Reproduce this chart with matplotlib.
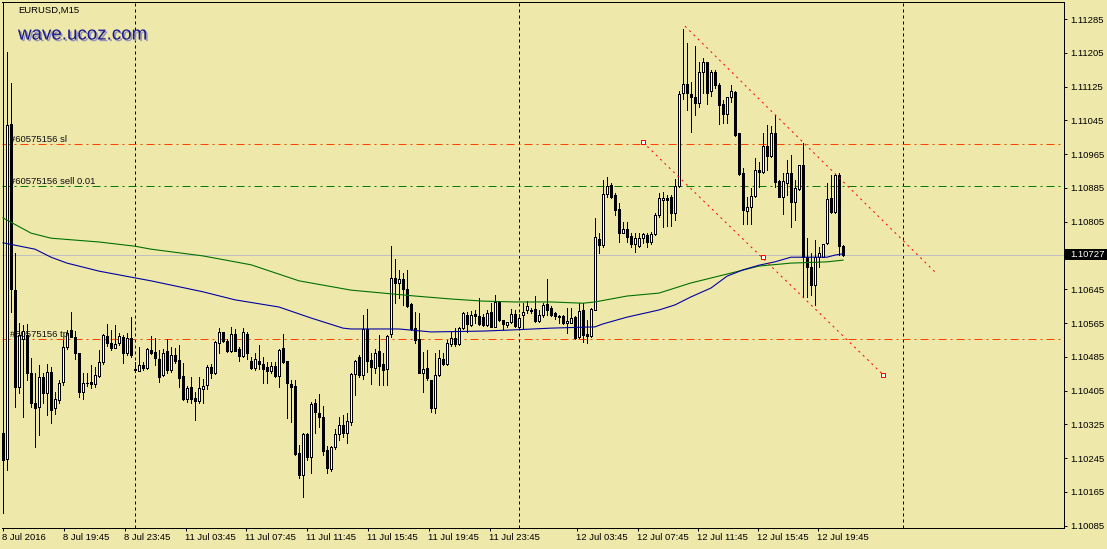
import matplotlib
matplotlib.use("Agg")
import matplotlib.pyplot as plt
from matplotlib import transforms, patheffects
from matplotlib.patches import Rectangle

# ---------------- data ----------------
symbol = "EURUSD,M15"
watermark = "wave.ucoz.com"
order_id = "#60575156"

open_ = [1.10305, 1.10243, 1.11036, 1.10643, 1.10414, 1.10527, 1.10537, 1.10447, 1.10376, 1.10366,
         1.10437, 1.10399, 1.10449, 1.10364, 1.10383, 1.10425, 1.10508, 1.10549, 1.10532, 1.10494,
         1.10402, 1.10423, 1.10425, 1.10421, 1.10440, 1.10473, 1.10534, 1.10518, 1.10506, 1.10518,
         1.10532, 1.10494, 1.10530, 1.10456, 1.10451, 1.10466, 1.10459, 1.10501, 1.10496, 1.10480,
         1.10442, 1.10499, 1.10454, 1.10489, 1.10478, 1.10440, 1.10385, 1.10414, 1.10388, 1.10380,
         1.10409, 1.10418, 1.10461, 1.10447, 1.10518, 1.10544, 1.10523, 1.10499, 1.10539, 1.10504,
         1.10487, 1.10539, 1.10475, 1.10459, 1.10475, 1.10468, 1.10461, 1.10451, 1.10463, 1.10440,
         1.10506, 1.10475, 1.10421, 1.10416, 1.10257, 1.10205, 1.10302, 1.10248, 1.10376, 1.10352,
         1.10343, 1.10264, 1.10219, 1.10272, 1.10302, 1.10324, 1.10305, 1.10331, 1.10444, 1.10485,
         1.10442, 1.10551, 1.10478, 1.10459, 1.10499, 1.10468, 1.10456, 1.10539, 1.10672, 1.10660,
         1.10669, 1.10646, 1.10610, 1.10553, 1.10527, 1.10447, 1.10459, 1.10430, 1.10364, 1.10442,
         1.10480, 1.10468, 1.10515, 1.10530, 1.10515, 1.10553, 1.10584, 1.10560, 1.10586, 1.10582,
         1.10579, 1.10560, 1.10591, 1.10556, 1.10615, 1.10572, 1.10560, 1.10568, 1.10586, 1.10556,
         1.10584, 1.10596, 1.10596, 1.10598, 1.10570, 1.10584, 1.10610, 1.10601, 1.10589, 1.10582,
         1.10582, 1.10565, 1.10565, 1.10579, 1.10532, 1.10596, 1.10539, 1.10534, 1.10596, 1.10764,
         1.10750, 1.10871, 1.10892, 1.10868, 1.10835, 1.10778, 1.10788, 1.10771, 1.10752, 1.10747,
         1.10766, 1.10774, 1.10757, 1.10776, 1.10821, 1.10856, 1.10861, 1.10864, 1.10826, 1.10890,
         1.11110, 1.11131, 1.11107, 1.11100, 1.11086, 1.11160, 1.11183, 1.11115, 1.11160, 1.11129,
         1.11084, 1.11060, 1.11100, 1.11112, 1.11015, 1.10920, 1.10830, 1.10840, 1.10866, 1.10927,
         1.10923, 1.10984, 1.10961, 1.11015, 1.10901, 1.10864, 1.10897, 1.10920, 1.10852, 1.10882,
         1.10939, 1.10721, 1.10698, 1.10655, 1.10721, 1.10721, 1.10755, 1.10861, 1.10828, 1.10916,
         1.10747]
high = [1.11340, 1.11207, 1.11133, 1.10731, 1.10565, 1.10560, 1.10563, 1.10482, 1.10447, 1.10466,
        1.10447, 1.10468, 1.10461, 1.10402, 1.10430, 1.10525, 1.10549, 1.10591, 1.10546, 1.10494,
        1.10447, 1.10447, 1.10466, 1.10461, 1.10501, 1.10539, 1.10563, 1.10549, 1.10560, 1.10541,
        1.10537, 1.10541, 1.10579, 1.10473, 1.10508, 1.10473, 1.10506, 1.10534, 1.10530, 1.10501,
        1.10504, 1.10527, 1.10508, 1.10506, 1.10513, 1.10470, 1.10416, 1.10437, 1.10402, 1.10437,
        1.10433, 1.10466, 1.10468, 1.10523, 1.10553, 1.10544, 1.10527, 1.10556, 1.10551, 1.10508,
        1.10553, 1.10544, 1.10485, 1.10494, 1.10513, 1.10485, 1.10473, 1.10473, 1.10473, 1.10504,
        1.10539, 1.10475, 1.10430, 1.10430, 1.10276, 1.10305, 1.10305, 1.10378, 1.10385, 1.10397,
        1.10369, 1.10274, 1.10274, 1.10314, 1.10343, 1.10347, 1.10352, 1.10447, 1.10478, 1.10489,
        1.10584, 1.10598, 1.10494, 1.10504, 1.10537, 1.10494, 1.10537, 1.10747, 1.10717, 1.10691,
        1.10684, 1.10691, 1.10612, 1.10591, 1.10589, 1.10496, 1.10501, 1.10430, 1.10494, 1.10501,
        1.10494, 1.10525, 1.10544, 1.10553, 1.10556, 1.10591, 1.10591, 1.10594, 1.10596, 1.10624,
        1.10586, 1.10596, 1.10612, 1.10631, 1.10617, 1.10572, 1.10568, 1.10598, 1.10596, 1.10586,
        1.10612, 1.10617, 1.10601, 1.10629, 1.10596, 1.10612, 1.10669, 1.10605, 1.10591, 1.10584,
        1.10584, 1.10601, 1.10601, 1.10582, 1.10612, 1.10612, 1.10572, 1.10601, 1.10814, 1.10778,
        1.10904, 1.10911, 1.10897, 1.10873, 1.10849, 1.10804, 1.10804, 1.10778, 1.10778, 1.10778,
        1.10778, 1.10778, 1.10781, 1.10826, 1.10873, 1.10875, 1.10868, 1.10868, 1.10906, 1.11115,
        1.11261, 1.11228, 1.11136, 1.11221, 1.11183, 1.11193, 1.11183, 1.11164, 1.11164, 1.11133,
        1.11093, 1.11100, 1.11129, 1.11115, 1.11015, 1.10932, 1.10864, 1.10885, 1.10956, 1.10946,
        1.11015, 1.11034, 1.11032, 1.11058, 1.10904, 1.10920, 1.10951, 1.10963, 1.10904, 1.10939,
        1.10991, 1.10766, 1.10731, 1.10762, 1.10745, 1.10752, 1.10897, 1.10916, 1.10918, 1.10920,
        1.10750]
low = [1.10115, 1.10217, 1.10591, 1.10366, 1.10399, 1.10343, 1.10430, 1.10366, 1.10272, 1.10300,
       1.10376, 1.10347, 1.10328, 1.10350, 1.10376, 1.10418, 1.10504, 1.10532, 1.10480, 1.10390,
       1.10385, 1.10416, 1.10411, 1.10414, 1.10437, 1.10468, 1.10511, 1.10501, 1.10506, 1.10513,
       1.10470, 1.10489, 1.10485, 1.10449, 1.10451, 1.10454, 1.10456, 1.10492, 1.10466, 1.10425,
       1.10440, 1.10447, 1.10449, 1.10470, 1.10414, 1.10383, 1.10378, 1.10376, 1.10335, 1.10376,
       1.10376, 1.10409, 1.10435, 1.10444, 1.10494, 1.10520, 1.10496, 1.10496, 1.10499, 1.10475,
       1.10485, 1.10480, 1.10456, 1.10454, 1.10456, 1.10423, 1.10423, 1.10447, 1.10437, 1.10414,
       1.10470, 1.10340, 1.10331, 1.10253, 1.10198, 1.10153, 1.10241, 1.10210, 1.10305, 1.10319,
       1.10253, 1.10210, 1.10215, 1.10267, 1.10288, 1.10295, 1.10281, 1.10324, 1.10395, 1.10437,
       1.10433, 1.10449, 1.10421, 1.10447, 1.10418, 1.10418, 1.10418, 1.10532, 1.10612, 1.10624,
       1.10608, 1.10603, 1.10549, 1.10518, 1.10447, 1.10402, 1.10430, 1.10354, 1.10352, 1.10440,
       1.10466, 1.10466, 1.10511, 1.10511, 1.10513, 1.10551, 1.10544, 1.10558, 1.10565, 1.10560,
       1.10558, 1.10558, 1.10556, 1.10556, 1.10570, 1.10551, 1.10556, 1.10565, 1.10556, 1.10553,
       1.10553, 1.10589, 1.10589, 1.10568, 1.10568, 1.10579, 1.10584, 1.10582, 1.10575, 1.10565,
       1.10563, 1.10541, 1.10565, 1.10527, 1.10530, 1.10520, 1.10518, 1.10532, 1.10596, 1.10731,
       1.10745, 1.10864, 1.10861, 1.10821, 1.10757, 1.10778, 1.10757, 1.10745, 1.10733, 1.10745,
       1.10755, 1.10745, 1.10752, 1.10774, 1.10816, 1.10792, 1.10795, 1.10795, 1.10809, 1.10887,
       1.11096, 1.11070, 1.11017, 1.11058, 1.11077, 1.11110, 1.11084, 1.11103, 1.11122, 1.11036,
       1.11039, 1.11039, 1.11088, 1.11008, 1.10916, 1.10800, 1.10800, 1.10800, 1.10864, 1.10887,
       1.10920, 1.10927, 1.10958, 1.10887, 1.10864, 1.10823, 1.10868, 1.10792, 1.10809, 1.10880,
       1.10627, 1.10627, 1.10631, 1.10608, 1.10698, 1.10721, 1.10752, 1.10826, 1.10826, 1.10726,
       1.10724]
close = [1.10241, 1.11034, 1.10646, 1.10414, 1.10537, 1.10546, 1.10447, 1.10376, 1.10364, 1.10437,
         1.10399, 1.10449, 1.10359, 1.10385, 1.10423, 1.10508, 1.10541, 1.10532, 1.10494, 1.10402,
         1.10423, 1.10423, 1.10421, 1.10442, 1.10473, 1.10537, 1.10518, 1.10506, 1.10515, 1.10534,
         1.10494, 1.10530, 1.10489, 1.10454, 1.10466, 1.10459, 1.10504, 1.10494, 1.10482, 1.10437,
         1.10494, 1.10454, 1.10489, 1.10475, 1.10435, 1.10385, 1.10411, 1.10385, 1.10380, 1.10411,
         1.10416, 1.10461, 1.10447, 1.10520, 1.10544, 1.10523, 1.10499, 1.10539, 1.10499, 1.10487,
         1.10544, 1.10494, 1.10459, 1.10480, 1.10468, 1.10456, 1.10451, 1.10463, 1.10440, 1.10501,
         1.10473, 1.10423, 1.10414, 1.10255, 1.10205, 1.10302, 1.10248, 1.10373, 1.10354, 1.10343,
         1.10262, 1.10222, 1.10272, 1.10302, 1.10324, 1.10305, 1.10333, 1.10444, 1.10475, 1.10442,
         1.10551, 1.10475, 1.10461, 1.10494, 1.10463, 1.10454, 1.10534, 1.10672, 1.10660, 1.10669,
         1.10646, 1.10605, 1.10551, 1.10525, 1.10447, 1.10456, 1.10435, 1.10364, 1.10442, 1.10482,
         1.10468, 1.10518, 1.10530, 1.10515, 1.10553, 1.10589, 1.10563, 1.10584, 1.10582, 1.10563,
         1.10560, 1.10589, 1.10556, 1.10615, 1.10572, 1.10563, 1.10568, 1.10586, 1.10558, 1.10577,
         1.10591, 1.10605, 1.10594, 1.10570, 1.10584, 1.10608, 1.10596, 1.10584, 1.10582, 1.10579,
         1.10565, 1.10570, 1.10577, 1.10530, 1.10594, 1.10537, 1.10534, 1.10598, 1.10769, 1.10750,
         1.10871, 1.10890, 1.10864, 1.10833, 1.10778, 1.10788, 1.10769, 1.10752, 1.10766, 1.10766,
         1.10776, 1.10757, 1.10776, 1.10821, 1.10861, 1.10861, 1.10856, 1.10826, 1.10890, 1.11107,
         1.11131, 1.11110, 1.11100, 1.11086, 1.11160, 1.11183, 1.11110, 1.11160, 1.11129, 1.11081,
         1.11060, 1.11100, 1.11115, 1.11010, 1.10918, 1.10833, 1.10840, 1.10866, 1.10927, 1.10923,
         1.10984, 1.10961, 1.11015, 1.10899, 1.10864, 1.10901, 1.10920, 1.10852, 1.10885, 1.10939,
         1.10721, 1.10698, 1.10655, 1.10721, 1.10731, 1.10752, 1.10859, 1.10828, 1.10916, 1.10747,
         1.10727]

# moving averages (read at sample bars)
ma_fast_bar = [0, 8, 12, 16, 24, 33, 37, 50, 58, 69, 77, 85, 87, 99, 107, 120, 128, 137, 148, 150,
               156, 164, 168, 172, 177, 181, 185, 189, 193, 197, 206, 208, 210]
ma_fast = [1.10755, 1.10740, 1.10721, 1.10707, 1.10688, 1.10672, 1.10665, 1.10639, 1.10620, 1.10603,
           1.10577, 1.10553, 1.10551, 1.10551, 1.10544, 1.10546, 1.10549, 1.10553, 1.10556, 1.10563,
           1.10579, 1.10596, 1.10608, 1.10627, 1.10648, 1.10676, 1.10691, 1.10702, 1.10710, 1.10721,
           1.10721, 1.10726, 1.10729]
ma_slow_bar = [0, 7, 12, 24, 33, 37, 50, 62, 74, 87, 95, 103, 112, 120, 128, 137, 145, 148, 156, 164,
               172, 181, 189, 197, 206, 210]
ma_slow = [1.10814, 1.10778, 1.10766, 1.10757, 1.10747, 1.10740, 1.10724, 1.10703, 1.10665, 1.10643,
           1.10636, 1.10629, 1.10622, 1.10617, 1.10615, 1.10615, 1.10612, 1.10615, 1.10629, 1.10636,
           1.10660, 1.10681, 1.10700, 1.10707, 1.10710, 1.10714]

sl_price = 1.10990
entry_price = 1.10890
tp_price = 1.10527
bid_price = 1.10727

chan_lower_bar = [160, 220]
chan_lower_price = [1.10993, 1.10443]
chan_upper_bar = [170.5, 233]
chan_upper_price = [1.11268, 1.10686]
chan_mark_bar = [160, 190, 220]
chan_mark_price = [1.10993, 1.10721, 1.10443]

day_separator_bar = [33, 129, 225]

price_ticks = [1.10085, 1.10165, 1.10245, 1.10325, 1.10405, 1.10485, 1.10565, 1.10645,
               1.10725, 1.10805, 1.10885, 1.10965, 1.11045, 1.11125, 1.11205, 1.11285]
time_labels = ["8 Jul 2016", "8 Jul 19:45", "8 Jul 23:45", "11 Jul 03:45", "11 Jul 07:45",
               "11 Jul 11:45", "11 Jul 15:45", "11 Jul 19:45", "11 Jul 23:45", "12 Jul 03:45",
               "12 Jul 07:45", "12 Jul 11:45", "12 Jul 15:45", "12 Jul 19:45"]

# ---------------- layout / style ----------------
time_tick_pos = [0.08, 15.25, 30.5, 45.7, 60.8, 76, 91.25, 106.4, 121.7, 143.6, 158.7, 173.7, 188.7, 203.7]
BG = "#EEE8AA"
FONT = "Liberation Sans"
FS = 6.8
W, H = 1107, 549
LW = 0.72

fig = plt.figure(figsize=(W / 100, H / 100), dpi=100, facecolor=BG)
ax = fig.add_axes([2 / W, 21 / H, 1062 / W, 525.7 / H], facecolor=BG)
ax.set_xlim(-0.25, 265.25)
ax.set_ylim(1.100797, 1.113246)

# candles
xs = list(range(len(open_)))
ax.vlines(xs, low, high, color="black", lw=LW, antialiased=False, zorder=3)
bottoms = [min(o, c) for o, c in zip(open_, close)]
heights = [abs(c - o) for o, c in zip(open_, close)]
fills = ["white" if c > o else "black" for o, c in zip(open_, close)]
ax.bar(xs, heights, bottom=bottoms, width=0.5, color=fills, edgecolor="black",
       linewidth=LW, antialiased=False, zorder=4)

# moving averages
ax.plot(ma_slow_bar, ma_slow, color="#007000", lw=LW * 1.1, zorder=5)
ax.plot(ma_fast_bar, ma_fast, color="#0000A0", lw=LW * 1.1, zorder=5)

# bid line
ax.axhline(bid_price, color="#C0C0C0", lw=LW, zorder=2)

# day separators
for b in day_separator_bar:
    ax.axvline(b, color="black", lw=LW, dashes=(3, 3), zorder=1)

# order lines
ax.axhline(sl_price, color="#FF4500", lw=LW, dashes=(8, 4, 2, 4), zorder=2)
ax.axhline(entry_price, color="#008000", lw=LW, dashes=(8, 4, 2, 4), zorder=2)
ax.axhline(tp_price, color="#FF4500", lw=LW, dashes=(8, 4, 2, 4), zorder=2)
blend = transforms.blended_transform_factory(ax.transAxes, ax.transData)
for txt, p in [(f"{order_id} sl", sl_price), (f"{order_id} sell 0.01", entry_price),
               (f"{order_id} tp", tp_price)]:
    ax.annotate(txt, xy=(0, p), xycoords=blend, xytext=(6, 1.4), textcoords="offset points",
                fontsize=FS, family=FONT, color="#101010", va="baseline", ha="left", zorder=6)

# channel
ax.plot(chan_lower_bar, chan_lower_price, color="red", lw=LW, dashes=(2, 4), zorder=6)
ax.plot(chan_upper_bar, chan_upper_price, color="red", lw=LW, dashes=(2, 4), zorder=6)
ax.plot(chan_mark_bar, chan_mark_price, ls="none", marker="s", ms=3, mfc="white", mec="red",
        mew=LW, zorder=7)

# axes
ax.spines["left"].set_visible(False)
for s in ["top", "right", "bottom"]:
    ax.spines[s].set_linewidth(LW)
    ax.spines[s].set_color("black")
ax.yaxis.tick_right()
ax.set_yticks(price_ticks)
ax.set_yticklabels([f"{p:.5f}" for p in price_ticks], family=FONT, fontsize=FS)
ax.tick_params(axis="y", direction="out", length=2.3, width=LW, pad=2.4, colors="black")
ax.set_xticks(time_tick_pos)
ax.set_xticklabels(time_labels, family=FONT, fontsize=FS, ha="left")
ax.tick_params(axis="x", direction="out", length=2.5, width=LW, pad=1.0, colors="black")
off = transforms.ScaledTranslation(-1 / 100, 0, fig.dpi_scale_trans)
for lbl in ax.get_xticklabels():
    lbl.set_transform(lbl.get_transform() + off)

# current price tag
ppx = (ax.get_ylim()[1] - ax.get_ylim()[0]) / 525.7
ax.add_patch(Rectangle((1.0, bid_price - 5.5 * ppx), 43 / 1062, 11 * ppx, transform=blend,
                       facecolor="black", edgecolor="none", clip_on=False, zorder=10))
ax.annotate(f"{bid_price:.5f}", xy=(1.0, bid_price), xycoords=blend, xytext=(4.6, 0),
            textcoords="offset points", fontsize=FS, family=FONT, color="white",
            va="center", ha="left", zorder=11, annotation_clip=False)

# titles
fig.text(18 / W, 1 - 13.3 / H, symbol, fontsize=FS, family=FONT, color="black", va="baseline")
fig.text(18 / W, 1 - 39.5 / H, watermark, fontsize=13.5, family=FONT, color="#1A1A8C",
         va="baseline",
         path_effects=[patheffects.withSimplePatchShadow(offset=(1.2, -1.2),
                                                         shadow_rgbFace="#8C8CC0", alpha=0.9)])

fig.savefig("out.png", dpi=100, facecolor=BG)
